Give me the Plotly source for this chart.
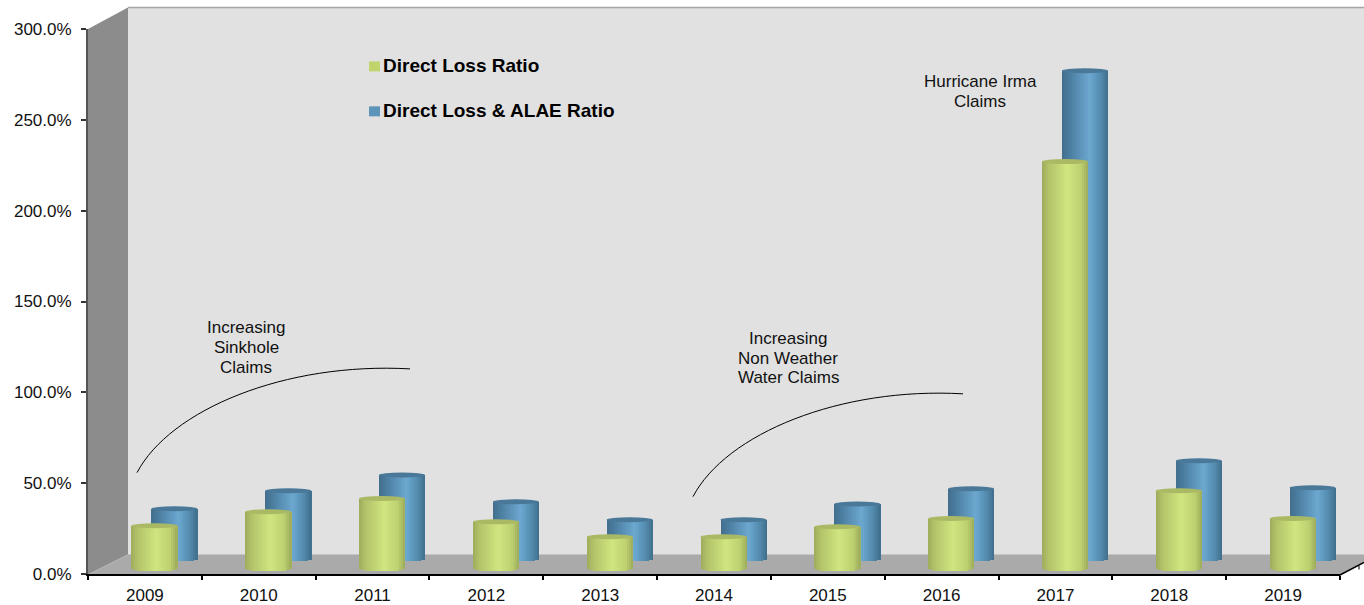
import math
import plotly.graph_objects as go

years = ["2009", "2010", "2011", "2012", "2013", "2014", "2015", "2016", "2017", "2018", "2019"]
direct_loss_ratio = [26.5, 34.3, 41.5, 28.8, 20.5, 20.5, 26.0, 30.5, 227.0, 45.8, 30.5]
direct_loss_alae_ratio = [29.9, 39.8, 48.5, 33.7, 23.8, 23.8, 32.5, 40.9, 271.0, 56.3, 41.4]
y_ticks = [0, 50, 100, 150, 200, 250, 300]
y_tick_labels = ["0.0%", "50.0%", "100.0%", "150.0%", "200.0%", "250.0%", "300.0%"]

W, H = 1364, 605
L, R, T, B = 88, 1340, 28.5, 574.5
PX_X = (R - L) / 11
PX_Y = (B - T) / 300


def px(x):
    return (x - L) / (R - L)


def py(y):
    return (B - y) / (B - T)


def poly(points):
    return "M " + " L ".join(f"{px(a):.5f} {py(b):.5f}" for a, b in points) + " Z"


def curve(p):
    c = [f"{px(a):.5f} {py(b):.5f}" for a, b in p]
    return f"M {c[0]} C {c[1]} {c[2]} {c[3]}"


def ramp(stops, u):
    for (u0, c0), (u1, c1) in zip(stops, stops[1:]):
        if u <= u1:
            t = (u - u0) / (u1 - u0)
            return "rgb(" + ",".join(str(round(a + (b - a) * t)) for a, b in zip(c0, c1)) + ")"
    return "rgb(" + ",".join(map(str, stops[-1][1])) + ")"


GREEN_STOPS = [(0, (156, 170, 90)), (.12, (176, 192, 104)), (.55, (208, 230, 128)), (.85, (188, 208, 112)), (1, (156, 170, 90))]
BLUE_STOPS = [(0, (66, 110, 140)), (.15, (74, 124, 158)), (.6, (108, 168, 208)), (.85, (82, 137, 172)), (1, (64, 110, 140))]

STRIPS = 23
BAR_W = 46 / PX_X
STRIP_W = BAR_W / STRIPS
CAP = 2.5 / PX_Y

fig = go.Figure()
shapes = []


def cylinder(name, values, lift, floor, shift_px, stops, mid, cap_color):
    centre = shift_px / PX_X
    tops = [v + lift for v in values]
    fig.add_trace(go.Bar(
        name=name, x=years, y=[t - floor for t in tops], base=floor,
        width=BAR_W * 0.96, offset=centre - BAR_W * 0.48,
        marker=dict(color=mid, line=dict(width=0)), showlegend=False,
    ))
    xs, ys, bases, offs, cols = [], [], [], [], []
    for k in range(STRIPS):
        u = (k + .5) / STRIPS
        bottom = floor - CAP * math.sqrt(max(0, 1 - (2 * u - 1) ** 2))
        for yr, t in zip(years, tops):
            xs.append(yr)
            ys.append(t - bottom)
            bases.append(bottom)
            offs.append(centre - BAR_W / 2 + k * STRIP_W)
            cols.append(ramp(stops, u))
    fig.add_trace(go.Bar(
        x=xs, y=ys, base=bases, offset=offs, width=STRIP_W * 1.15,
        marker=dict(color=cols, line=dict(width=0)), showlegend=False, hoverinfo="skip",
    ))
    for i, t in enumerate(tops):
        shapes.append(dict(
            type="circle", xref="x", yref="y", layer="above",
            x0=i + centre - BAR_W / 2, x1=i + centre + BAR_W / 2,
            y0=t - CAP, y1=t + CAP, fillcolor=cap_color, line=dict(width=0),
        ))


cylinder("Direct Loss & ALAE Ratio", direct_loss_alae_ratio, 6.04, 8.24, 29.5, BLUE_STOPS, "rgb(90,145,185)", "rgb(74,120,152)")
cylinder("Direct Loss Ratio", direct_loss_ratio, 0, 2.9, 9.5, GREEN_STOPS, "rgb(190,210,115)", "rgb(170,186,100)")

wall = [
    dict(path=poly([(128, 7), (1364, 7), (1364, 556), (128, 556)]), fillcolor="rgb(225,225,225)"),
    dict(path=poly([(88, 28.5), (128, 7), (128, 555), (88, 575)]), fillcolor="rgb(140,140,140)"),
    dict(path=poly([(128, 555), (1364, 555), (1364, 563), (1339, 576), (88, 575)]), fillcolor="rgb(170,170,170)"),
]
for w in wall:
    shapes.append(dict(type="path", xref="paper", yref="paper", layer="below", line=dict(width=0), **w))

shapes += [
    dict(type="line", xref="paper", yref="paper", layer="below", x0=px(128), x1=px(1364), y0=py(7), y1=py(7),
         line=dict(color="rgb(165,165,165)", width=1.5)),
    dict(type="line", xref="paper", yref="paper", x0=px(1339), x1=px(1364), y0=py(576), y1=py(563),
         line=dict(color="black", width=1.5)),
    dict(type="line", xref="paper", yref="paper", x0=px(1359), x1=px(1359), y0=py(566), y1=py(570),
         line=dict(color="black", width=1)),
    dict(type="path", xref="paper", yref="paper", path=curve([(137, 473), (170, 410), (285, 362), (410, 369)]),
         line=dict(color="black", width=1)),
    dict(type="path", xref="paper", yref="paper", path=curve([(693, 497), (726, 434), (840, 387), (963, 394)]),
         line=dict(color="black", width=1)),
    dict(type="rect", xref="paper", yref="paper", x0=px(369), x1=px(380), y0=py(61), y1=py(71),
         fillcolor="rgb(192,212,110)", line=dict(width=0)),
    dict(type="rect", xref="paper", yref="paper", x0=px(369), x1=px(380), y0=py(106), y1=py(116),
         fillcolor="rgb(92,148,186)", line=dict(width=0)),
]

FONT = "Liberation Sans, Arial, sans-serif"
notes = [
    ("Increasing", 246, 328), ("Sinkhole", 246, 348), ("Claims", 246, 368),
    ("Increasing", 788, 339), ("Non Weather", 788, 359), ("Water Claims", 788, 378),
    ("Hurricane Irma", 980, 81), ("Claims", 980, 101),
]
annotations = [
    dict(text=t, xref="paper", yref="paper", x=px(a), y=py(b), xanchor="center", yanchor="middle",
         showarrow=False, font=dict(family=FONT, size=17, color="#111"))
    for t, a, b in notes
]
annotations += [
    dict(text=f"<b>{t}</b>", xref="paper", yref="paper", x=px(380.5), y=py(b), xanchor="left", yanchor="middle",
         showarrow=False, font=dict(family=FONT, size=19, color="black"))
    for t, b in [("Direct Loss Ratio", 65.5), ("Direct Loss & ALAE Ratio", 110.5)]
]

fig.update_layout(
    width=W, height=H, margin=dict(l=L, r=W - R, t=T, b=H - B, pad=0, autoexpand=False),
    paper_bgcolor="white", plot_bgcolor="rgba(0,0,0,0)",
    barmode="overlay", bargap=0, showlegend=False, shapes=shapes, annotations=annotations,
    font=dict(family=FONT, size=17, color="#111"),
    xaxis=dict(type="category", categoryorder="array", categoryarray=years, range=[-.5, 10.5],
               tickson="boundaries", ticks="outside", ticklen=4, tickcolor="black", tickwidth=1.5,
               ticklabelstandoff=5,
               showline=True, linecolor="black", linewidth=1.5, showgrid=False, zeroline=False,
               tickfont=dict(family=FONT, size=17, color="#111")),
    yaxis=dict(range=[0, 300], tickmode="array", tickvals=y_ticks, ticktext=y_tick_labels,
               ticks="outside", ticklen=5, tickcolor="#333", tickwidth=1.5, ticklabelstandoff=6,
               showline=True, linecolor="#555", linewidth=2, showgrid=False, zeroline=False,
               tickfont=dict(family=FONT, size=17, color="#111")),
)

fig.write_html("out.html", config=dict(displayModeBar=False), post_script="document.body.style.margin='0';")
